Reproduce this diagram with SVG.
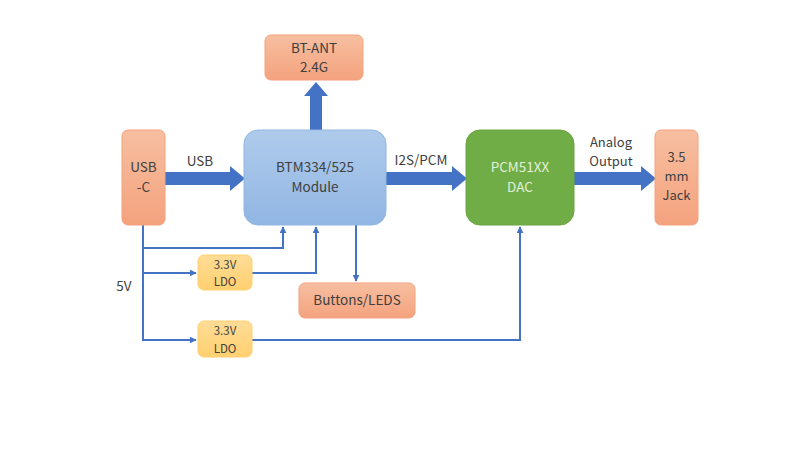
<svg xmlns="http://www.w3.org/2000/svg" width="800" height="450" viewBox="0 0 800 450">
<defs>
<linearGradient id="og" x1="0" y1="0" x2="0" y2="1"><stop offset="0" stop-color="#F7BFA0"/><stop offset="1" stop-color="#F4A27E"/></linearGradient>
<linearGradient id="bg" x1="0" y1="0" x2="0" y2="1"><stop offset="0" stop-color="#AFCBEB"/><stop offset="1" stop-color="#91B6E3"/></linearGradient>
<linearGradient id="yg" x1="0" y1="0" x2="0" y2="1"><stop offset="0" stop-color="#FFDC96"/><stop offset="1" stop-color="#FFD070"/></linearGradient>
<marker id="ah" viewBox="0 0 10 10" refX="9" refY="5" markerWidth="7" markerHeight="7" markerUnits="userSpaceOnUse" orient="auto"><path d="M0,0L10,5L0,10z" fill="#4472C4"/></marker>
<style>
text{font-family:"Microsoft YaHei","Noto Sans CJK SC","Liberation Sans",sans-serif;font-size:13.5px;fill:#404040;text-anchor:middle}
.s{font-size:11.5px}
.m{font-size:13px}
.o{fill:url(#og);stroke:#F4A27E;stroke-width:1}
.y{fill:url(#yg);stroke:#FFD070;stroke-width:1}
.t{fill:none;stroke:#4472C4;stroke-width:2}
.big{fill:#4472C4}
</style>
</defs>
<g id="connectors">
<path class="big" d="M165,172H230V166L245,178.5L230,191V185H165Z"/>
<path class="big" d="M386,172H452V166L467,178.5L452,191V185H386Z"/>
<path class="big" d="M574,172H641V166L656,178.5L641,191V185H574Z"/>
<path class="big" d="M310,130V96H304L316,82L328,96H322V130Z"/>
<path class="t" d="M143,225V340H196" marker-end="url(#ah)"/>
<path class="t" d="M143,248H283V227" marker-end="url(#ah)"/>
<path class="t" d="M143,273H196" marker-end="url(#ah)"/>
<path class="t" d="M252,273H316V227" marker-end="url(#ah)"/>
<path class="t" d="M356,225V281" marker-end="url(#ah)"/>
<path class="t" d="M252,340H520V227" marker-end="url(#ah)"/>
</g>
<g id="usbc"><rect class="o" x="122" y="130" width="43" height="95" rx="6"/><text x="143.5" y="172">USB</text><text x="143.5" y="192">-C</text></g>
<g id="btm"><rect x="244" y="130" width="142" height="95" rx="14" fill="url(#bg)" stroke="#91B6E3"/><text x="315" y="172">BTM334/525</text><text x="315" y="192">Module</text></g>
<g id="btant"><rect class="o" x="265" y="35" width="98" height="45" rx="6"/><text x="314" y="53">BT-ANT</text><text x="314" y="72">2.4G</text></g>
<g id="dac"><rect x="466" y="130" width="108" height="95" rx="14" fill="#70AD47" stroke="#6AA542"/><text x="520" y="172" style="fill:#E2F0D9">PCM51XX</text><text x="520" y="192" style="fill:#E2F0D9">DAC</text></g>
<g id="jack"><rect class="o" x="655" y="130" width="43" height="95" rx="6"/><text class="m" x="676.5" y="162">3.5</text><text class="m" x="676.5" y="181">mm</text><text class="m" x="676.5" y="200">Jack</text></g>
<g id="ldo1"><rect class="y" x="198" y="255" width="54" height="35" rx="6"/><text class="s" x="225" y="269">3.3V</text><text class="s" x="225" y="286">LDO</text></g>
<g id="ldo2"><rect class="y" x="198" y="321" width="54" height="36" rx="6"/><text class="s" x="225" y="335">3.3V</text><text class="s" x="225" y="353">LDO</text></g>
<g id="buttons"><rect class="o" x="299" y="283" width="116" height="35" rx="6"/><text x="357" y="305">Buttons/LEDS</text></g>
<g id="labels"><text x="200" y="166">USB</text><text x="421" y="165">I2S/PCM</text><text class="m" x="611" y="147">Analog</text><text class="m" x="611" y="166">Output</text><text x="124" y="291">5V</text></g>
</svg>
